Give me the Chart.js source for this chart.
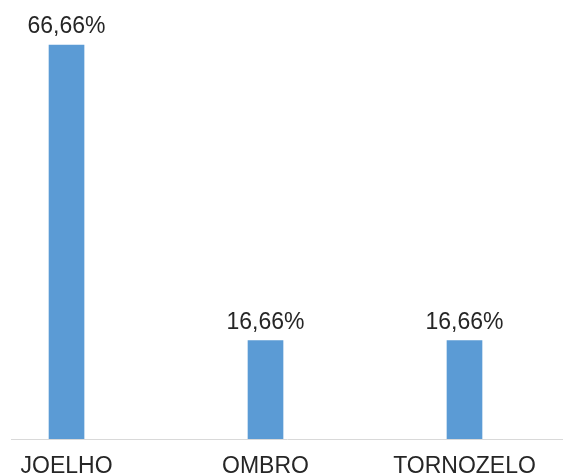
<!DOCTYPE html>
<html>
<head>
<meta charset="utf-8">
<script src="https://cdn.jsdelivr.net/npm/chart.js@4"></script>
<style>
  html, body { margin: 0; padding: 0; background: #fff; }
  #wrap { width: 563px; height: 476px; position: relative; }
</style>
</head>
<body>
<div id="wrap"><canvas id="chart"></canvas></div>
<script>
const categories = ['JOELHO', 'OMBRO', 'TORNOZELO'];
const percentages = [66.66, 16.66, 16.66];

const FONT = '"Liberation Sans", Arial, sans-serif';

// value labels above each bar
const valueLabels = {
  id: 'valueLabels',
  afterDatasetsDraw(chart) {
    const ctx = chart.ctx;
    const meta = chart.getDatasetMeta(0);
    ctx.save();
    ctx.font = '23px ' + FONT;
    ctx.fillStyle = '#262626';
    ctx.textAlign = 'center';
    ctx.textBaseline = 'alphabetic';
    meta.data.forEach((bar, i) => {
      const txt = percentages[i].toFixed(2).replace('.', ',') + '%';
      ctx.fillText(txt, bar.x, bar.y - 12);
    });
    ctx.restore();
  }
};

const ctx = document.getElementById('chart').getContext('2d');
new Chart(ctx, {
  type: 'bar',
  data: {
    datasets: [{
      data: percentages.map((v, i) => ({ x: i, y: v })),
      backgroundColor: '#5B9BD5',
      borderWidth: 0,
      barThickness: 35
    }]
  },
  options: {
    responsive: true,
    maintainAspectRatio: false,
    animation: false,
    layout: { padding: { left: 11, right: 0, top: 0, bottom: 0 } },
    plugins: {
      legend: { display: false },
      tooltip: { enabled: false }
    },
    scales: {
      x: {
        type: 'linear',
        offset: false,
        min: -0.279,
        max: 2.495,
        afterBuildTicks: (scale) => {
          scale.ticks = categories.map((c, i) => ({ value: i }));
        },
        afterFit: (scale) => { scale.height = 37; },
        grid: { display: false, drawTicks: false, offset: false },
        border: { display: true, color: '#d9d9d9', width: 1 },
        ticks: {
          padding: 14,
          color: '#262626',
          font: { family: FONT, size: 23 },
          maxRotation: 0,
          autoSkip: false,
          callback: (v) => categories[v]
        }
      },
      y: {
        display: false,
        min: 0,
        max: 74.27
      }
    }
  },
  plugins: [valueLabels]
});
</script>
</body>
</html>
